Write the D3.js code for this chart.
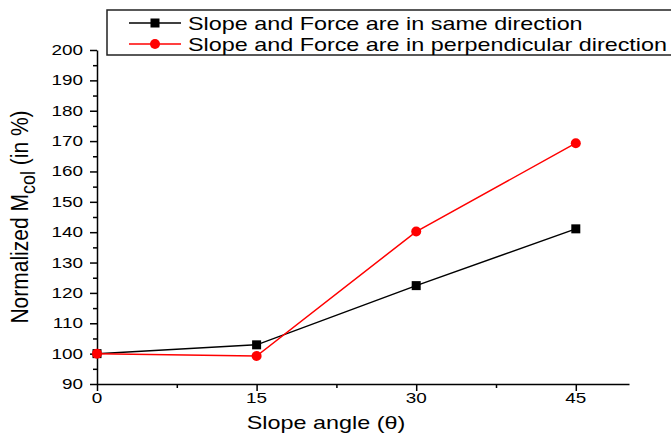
<!DOCTYPE html>
<html>
<head>
<meta charset="utf-8">
<script src="https://cdn.jsdelivr.net/npm/d3@7"></script>
<style>
  body { margin: 0; background: #fff; }
  text { font-family: "Liberation Sans", Arial, sans-serif; fill: #000; }
</style>
</head>
<body>
<script>
// data
var angles = [0, 15, 30, 45];
var sameDirection = [100, 102.9, 122.4, 141.1];
var perpDirection = [100, 99.2, 140.2, 169.3];
var seriesNames = ['Slope and Force are in same direction', 'Slope and Force are in perpendicular direction'];
var xTicks = [0, 15, 30, 45];
var yTicks = [90, 100, 110, 120, 130, 140, 150, 160, 170, 180, 190, 200];

var width = 671, height = 436;
var plotLeft = 97, plotRight = 629, plotTop = 50, plotBottom = 384;
var stretch = 1.3; // the reference text is drawn wider than normal

var svg = d3.select('body').append('svg')
  .attr('width', width)
  .attr('height', height);

var x = d3.scaleLinear().domain([0, 50]).range([plotLeft, plotRight]);
var y = d3.scaleLinear().domain([90, 200]).range([plotBottom, plotTop]);

// wide text helper
var wideText = function(parent, tx, ty, size, sx, anchor, str) {
  return parent.append('text')
    .attr('transform', 'translate(' + tx + ',' + ty + ') scale(' + sx + ',1)')
    .attr('font-size', size)
    .attr('text-anchor', anchor)
    .text(str);
};

// minor ticks
var xMinor = [7.5, 22.5, 37.5];
var yMinor = d3.range(95, 200, 10);

svg.append('g')
  .attr('transform', 'translate(0,' + plotBottom + ')')
  .call(d3.axisBottom(x).tickValues(xMinor).tickSize(4).tickFormat(''))
  .call(function(g) { g.select('.domain').remove(); });
svg.append('g')
  .attr('transform', 'translate(' + plotLeft + ',0)')
  .call(d3.axisLeft(y).tickValues(yMinor).tickSize(4).tickFormat(''))
  .call(function(g) { g.select('.domain').remove(); });

svg.append('g')
  .attr('transform', 'translate(0,' + plotBottom + ')')
  .call(d3.axisBottom(x).tickValues(xTicks).tickSize(7).tickSizeOuter(0).tickFormat(''));
svg.append('g')
  .attr('transform', 'translate(' + plotLeft + ',0)')
  .call(d3.axisLeft(y).tickValues(yTicks).tickSize(7).tickSizeOuter(0).tickFormat(''));

svg.selectAll('.tick line, .domain').attr('stroke', '#000').attr('stroke-width', 1.5);

// tick labels
xTicks.forEach(function(d) {
  wideText(svg, x(d), 403, 14, 1.35, 'middle', d);
});
yTicks.forEach(function(d) {
  wideText(svg, 83, y(d) + 5, 14, 1.35, 'end', d);
});

// axis titles
wideText(svg, 326, 429, 18, stretch, 'middle', 'Slope angle (\u03b8)');

var yTitle = svg.append('text')
  .attr('transform', 'translate(28,217) scale(1.12,1) rotate(-90)')
  .attr('text-anchor', 'middle')
  .attr('font-size', 21);
yTitle.append('tspan').text('Normalized M');
yTitle.append('tspan').attr('font-size', 18).attr('dy', 6).text('col');
yTitle.append('tspan').attr('dy', -6).text(' (in %)');

var line = d3.line()
  .x(function(d, i) { return x(angles[i]); })
  .y(function(d) { return y(d); });

svg.append('path').datum(sameDirection)
  .attr('d', line).attr('fill', 'none').attr('stroke', '#000').attr('stroke-width', 1.5);
svg.append('path').datum(perpDirection)
  .attr('d', line).attr('fill', 'none').attr('stroke', '#f00').attr('stroke-width', 1.5);

svg.selectAll('.sq').data(sameDirection).enter().append('rect')
  .attr('x', function(d, i) { return x(angles[i]) - 4.5; })
  .attr('y', function(d) { return y(d) - 4.5; })
  .attr('width', 9).attr('height', 9)
  .attr('fill', '#000');
svg.selectAll('.dot').data(perpDirection).enter().append('circle')
  .attr('cx', function(d, i) { return x(angles[i]); })
  .attr('cy', function(d) { return y(d); })
  .attr('r', 5)
  .attr('fill', '#f00');

// legend
var legend = svg.append('g');
legend.append('rect')
  .attr('x', 107).attr('y', 10).attr('width', 572).attr('height', 45)
  .attr('fill', '#fff').attr('stroke', '#222').attr('stroke-width', 1.5);
var legendY = [23, 44];
var legendColors = ['#000', '#f00'];
seriesNames.forEach(function(name, i) {
  legend.append('line')
    .attr('x1', 129).attr('x2', 181)
    .attr('y1', legendY[i]).attr('y2', legendY[i])
    .attr('stroke', legendColors[i]).attr('stroke-width', 1.5);
  if(i === 0) {
    legend.append('rect').attr('x', 150.5).attr('y', legendY[i] - 4.5)
      .attr('width', 9).attr('height', 9).attr('fill', '#000');
  } else {
    legend.append('circle').attr('cx', 155).attr('cy', legendY[i]).attr('r', 5).attr('fill', '#f00');
  }
  wideText(legend, 188, legendY[i] + 7, 19, 1.23, 'start', name);
});
</script>
</body>
</html>
